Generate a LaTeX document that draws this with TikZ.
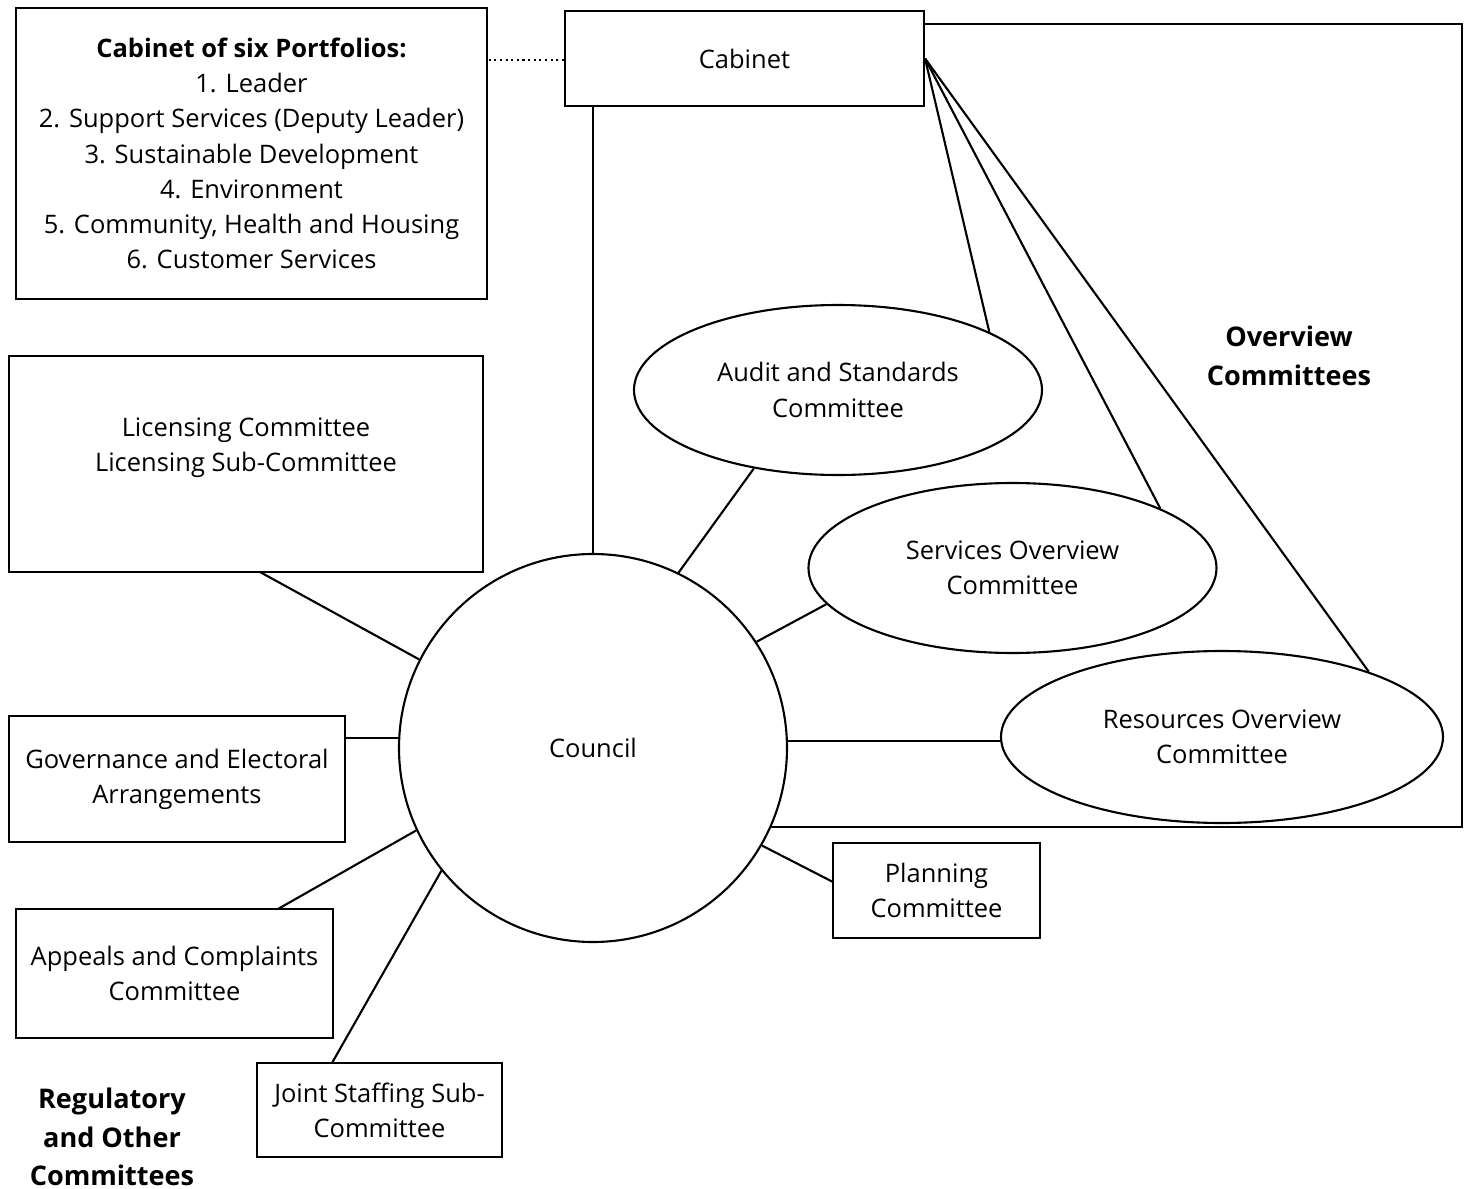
\documentclass[tikz,border=0pt]{standalone}
\usepackage{fontspec}
\setmainfont{Open Sans}
\usetikzlibrary{shapes.geometric}

\tikzset{
  every node/.style={font=\fontsize{7.25}{10}\selectfont},
  box/.style={draw, rectangle, align=center, inner sep=0pt},
  oval/.style={draw, ellipse, align=center, inner sep=0pt},
  heading/.style={align=center, font=\fontsize{7.7}{11}\selectfont\bfseries}
}

\begin{document}
\begin{tikzpicture}[line width=0.6pt]
\useasboundingbox (0,0) rectangle (14.65,-11.89);

% Cabinet and portfolios
\node[box, minimum width=4.71cm, minimum height=2.91cm] (portfolio) at (2.515,-1.535)
  {\textbf{Cabinet of six Portfolios:}\\1. Leader\\2. Support Services (Deputy Leader)\\3. Sustainable Development\\4. Environment\\5. Community, Health and Housing\\6. Customer Services};
\node[box, minimum width=3.59cm, minimum height=0.95cm] (cabinet) at (7.445,-0.585) {Cabinet};
\draw[densely dotted, line width=0.6pt] (cabinet.west) ++(0,-0.015) coordinate (dotend) -- (dotend -| portfolio.east);

% Council
\node[draw, circle, minimum size=3.88cm, inner sep=0pt] (council) at (5.93,-7.48) {Council};

% Overview committees
\node[oval, minimum width=4.08cm, minimum height=1.70cm] (audit) at (8.38,-3.90) {Audit and Standards\\Committee};
\node[oval, minimum width=4.08cm, minimum height=1.70cm] (services) at (10.125,-5.68) {Services Overview\\Committee};
\node[oval, minimum width=4.42cm, minimum height=1.72cm] (resources) at (12.22,-7.37) {Resources Overview\\Committee};
\node[heading] (overview) at (12.89,-3.56) {Overview\\Committees};

\coordinate (ovcorner) at (14.62,-0.24);
\draw (council.336) -| (ovcorner) -- (ovcorner -| cabinet.east);
\draw (council.north) -- (council.north |- cabinet.south);

\draw (cabinet.east) -- (audit.21.5);
\draw (cabinet.east) -- (services.22);
\draw (cabinet.east) -- (resources.24.5);

\draw (council.64) -- (audit.223);
\draw (council.33) -- (services.191);
\draw (council.2.5) -- (council.2.5 -| resources.west);

% Regulatory and other committees
\node[box, minimum width=4.74cm, minimum height=2.16cm] (licensing) at (2.46,-4.64) {};
\node[align=center] (licensingtext) at (2.46,-4.48) {Licensing Committee\\Licensing Sub-Committee};
\node[box, minimum width=3.36cm, minimum height=1.26cm] (governance) at (1.77,-7.79) {Governance and Electoral\\Arrangements};
\node[box, minimum width=3.17cm, minimum height=1.29cm] (appeals) at (1.745,-9.735) {Appeals and Complaints\\Committee};
\node[box, minimum width=2.45cm, minimum height=0.94cm] (staffing) at (3.795,-11.10) {Joint Staffing Sub-\\Committee};
\node[box, minimum width=2.07cm, minimum height=0.95cm] (planning) at (9.365,-8.905) {Planning\\Committee};
\node[heading] (regulatory) at (1.12,-11.37) {Regulatory\\and Other\\Committees};

\draw (council.153) -- (2.60,-5.72);
\draw (council.177.6) -- (council.177.6 -| governance.east);
\draw (council.205.4) -- (2.78,-9.09);
\draw (council.219) -- (3.32,-10.63);
\draw (council.330.4) -- (8.33,-8.82);
\end{tikzpicture}
\end{document}
